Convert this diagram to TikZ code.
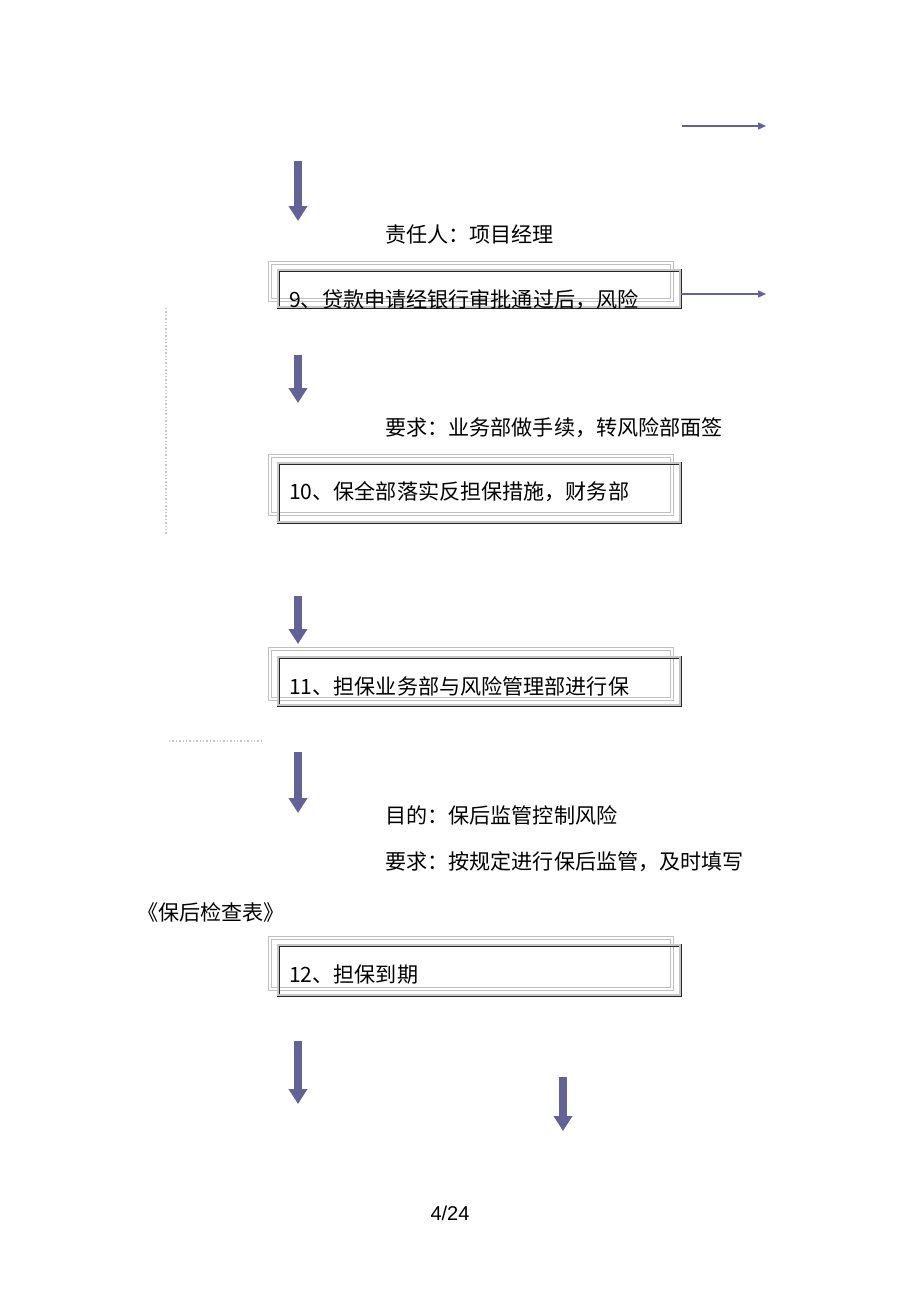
\documentclass[tikz,border=0pt]{standalone}
\usepackage{fontspec}
\setmainfont{Liberation Sans}
\newfontfamily\cjk{Noto Sans CJK SC}
\usetikzlibrary{arrows.meta}

\definecolor{arrowblue}{RGB}{98,98,150}
\definecolor{dotgray}{RGB}{200,196,216}

\begin{document}
\begin{tikzpicture}[x=1pt,y=-1pt,
    lightframe/.style={draw=gray!50, double=white, double distance=2pt, line width=0.8pt},
    darkframe/.style={draw=black!85, double=gray!45, double distance=1.2pt, line width=0.9pt},
    bigdown/.style={arrowblue, line width=8pt, -{Triangle[width=18pt,length=15pt]}},
    thinright/.style={arrowblue, line width=1.3pt, -{Triangle[width=7pt,length=8pt]}},
    dotline/.style={dotgray, line width=1.4pt, dotted},
    txt/.style={anchor=west, inner sep=0pt, font=\cjk\fontsize{21.1}{25}\selectfont}]

\useasboundingbox[fill=white] (0,0) rectangle (920,1303);

% the framed steps: a light frame behind, a dark one in front
\draw[lightframe] (270,263) rectangle (672,300);
\draw[darkframe]  (278,270) rectangle (680,307);

\draw[lightframe] (270,456) rectangle (672,514);
\draw[darkframe]  (278,463) rectangle (680,522);

\draw[lightframe] (270,649) rectangle (672,699);
\draw[darkframe]  (278,657) rectangle (680,705);

\draw[lightframe] (270,938) rectangle (672,989);
\draw[darkframe]  (278,945) rectangle (680,995);

% texts
\node[txt] (who)   at (385,235) {责任人：项目经理};
\node[txt] (step9) at (289,300) {9、贷款申请经银行审批通过后，风险};
\node[txt] (req1)  at (385,428) {要求：业务部做手续，转风险部面签};
\node[txt] (step10) at (289,492) {10、保全部落实反担保措施，财务部};
\node[txt] (step11) at (289,686) {11、担保业务部与风险管理部进行保};
\node[txt] (aim)   at (385,815) {目的：保后监管控制风险};
\node[txt] (req2)  at (385,862) {要求：按规定进行保后监管，及时填写};
\node[txt] (form)  at (137,912) {《保后检查表》};
\node[txt] (step12) at (289,975) {12、担保到期};
\node[font=\fontsize{20}{24}\selectfont] (page) at (450,1213) {4/24};

% arrow end points
\coordinate (r1s) at (682,126);  \coordinate (r1e) at (766,126);
\coordinate (r2s) at (681,294);  \coordinate (r2e) at (766,294);
\coordinate (d1s) at (298,161);  \coordinate (d1e) at (298,221);
\coordinate (d2s) at (298,355);  \coordinate (d2e) at (298,403);
\coordinate (d3s) at (298,596);  \coordinate (d3e) at (298,644);
\coordinate (d4s) at (298,752);  \coordinate (d4e) at (298,813);
\coordinate (d5s) at (298,1041); \coordinate (d5e) at (298,1104);
\coordinate (d6s) at (563,1077); \coordinate (d6e) at (563,1131);

% arrows to the right
\draw[thinright] (r1s) -- (r1e);
\draw[thinright] (r2s) -- (r2e);

% arrows down
\draw[bigdown] (d1s) -- (d1e);
\draw[bigdown] (d2s) -- (d2e);
\draw[bigdown] (d3s) -- (d3e);
\draw[bigdown] (d4s) -- (d4e);
\draw[bigdown] (d5s) -- (d5e);
\draw[bigdown] (d6s) -- (d6e);

% faint dotted lines on the left
\coordinate (v1) at (166,308); \coordinate (v2) at (166,535);
\coordinate (h1) at (169,741); \coordinate (h2) at (264,741);
\draw[dotline] (v1) -- (v2);
\draw[dotline] (h1) -- (h2);

\end{tikzpicture}
\end{document}
